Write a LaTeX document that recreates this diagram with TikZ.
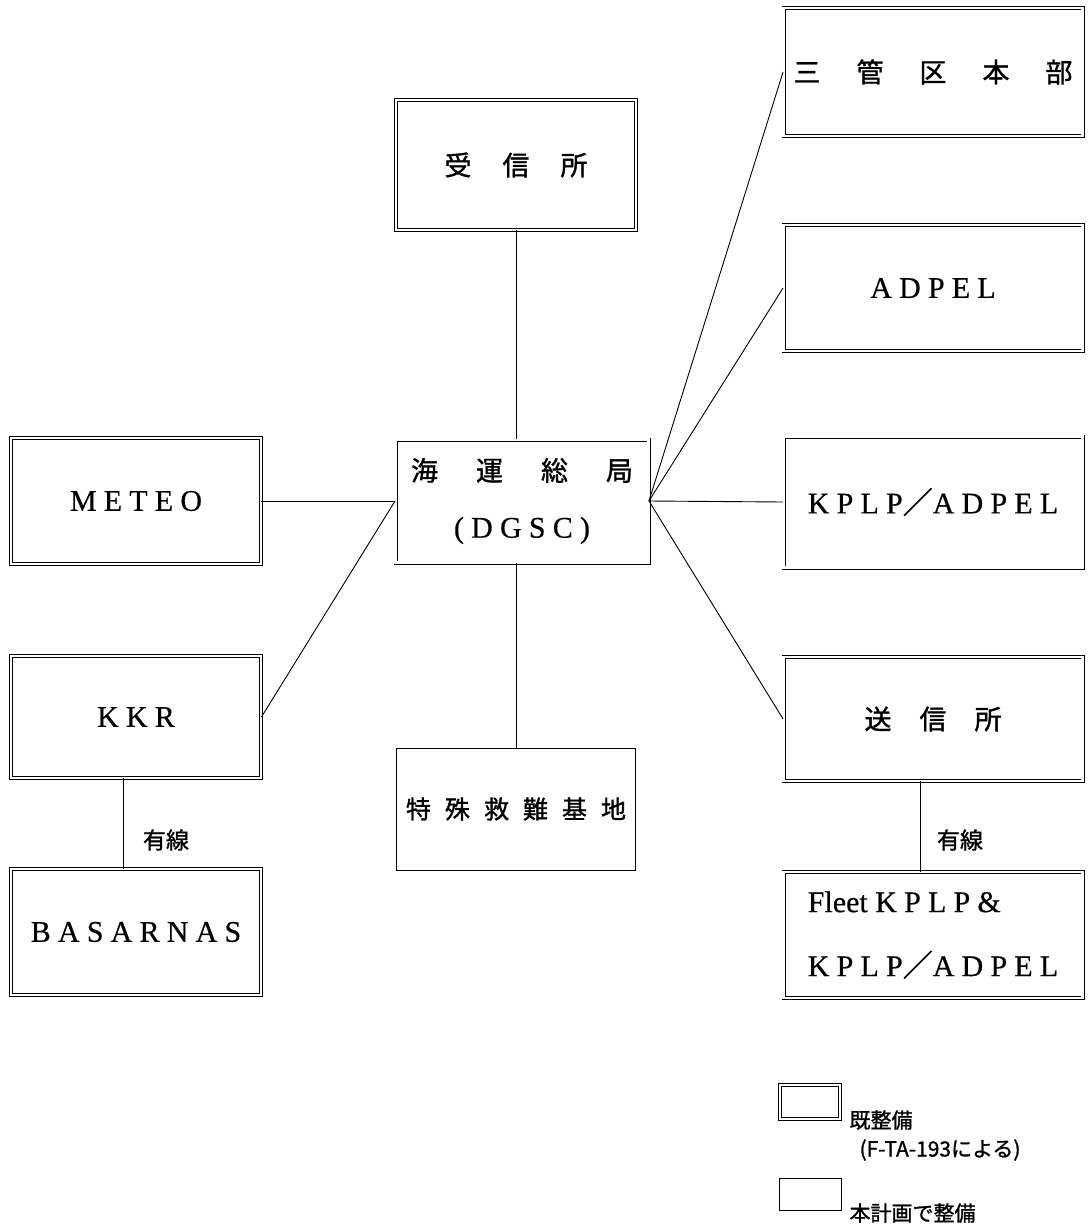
\documentclass[tikz,border=0pt]{standalone}
\usepackage{fontspec}
\setmainfont[FakeBold=0.5]{Liberation Serif}
\newfontfamily\cjk[FakeBold=1.2]{Noto Sans CJK JP}
\newfontfamily\wide[LetterSpace=24, FakeBold=0.5]{Liberation Serif}
\usetikzlibrary{positioning}

\begin{document}
\begin{tikzpicture}[
		x=1pt, y=-1pt,
		oldbox/.style={
			rectangle,
			draw=black,
			line width=0.9pt,
			double=white,
			double distance=2.2pt,
			minimum height=126pt,
			inner sep=0pt,
			font=\fontsize{30}{34}\selectfont
		},
		newbox/.style={
			rectangle,
			draw=black,
			line width=1pt,
			minimum height=122pt,
			inner sep=0pt,
			font=\fontsize{30}{34}\selectfont
		},
		link/.style={
			draw=black,
			line width=0.9pt
		},
		wirelabel/.style={
			anchor=center,
			font=\cjk\fontsize{23}{27}\selectfont
		},
		legendtext/.style={
			anchor=west,
			font=\cjk\fontsize{21}{25}\selectfont
		}
		]
		
		\useasboundingbox (0,0) rectangle (1089,1228);
		
		% centre column
		\node[oldbox, minimum width=240pt, minimum height=130pt] (recv) at (516,165)
		{\cjk\fontsize{27}{30}\selectfont 受\hspace{31pt}信\hspace{31pt}所};
		
		\node[oldbox, minimum width=253pt, minimum height=123pt, align=center,
			font=\fontsize{30}{57}\selectfont] (dgsc) at (522,501)
		{{\cjk\fontsize{27}{30}\selectfont 海\hspace{38pt}運\hspace{38pt}総\hspace{38pt}局}\\{\wide (DGSC)}};
		
		\node[newbox, minimum width=239pt] (special) at (516,809)
		{\cjk\fontsize{25}{30}\selectfont 特\hspace{14pt}殊\hspace{14pt}救\hspace{14pt}難\hspace{14pt}基\hspace{14pt}地};
		
		% left column
		\node[oldbox, minimum width=250pt] (meteo) at (136,501) {\wide METEO};
		\node[oldbox, minimum width=250pt, minimum height=122pt] (kkr) at (136,717) {\wide KKR};
		\node[oldbox, minimum width=250pt] (basarnas) at (136,932) {\wide BASARNAS};
		
		% right column
		\node[oldbox, minimum width=299pt, minimum height=128pt] (sankan) at (933,72)
		{\cjk\fontsize{27}{30}\selectfont 三\hspace{36pt}管\hspace{36pt}区\hspace{36pt}本\hspace{36pt}部};
		\node[oldbox, minimum width=299pt] (adpel) at (933,288) {\wide ADPEL};
		\node[oldbox, minimum width=299pt, minimum height=131pt] (kplp) at (933,502)
		{\wide KPLP{\cjk ／}ADPEL};
		\node[oldbox, minimum width=299pt, minimum height=124pt] (sender) at (933,719)
		{\cjk\fontsize{27}{30}\selectfont 送\hspace{28pt}信\hspace{28pt}所};
		\node[oldbox, minimum width=299pt, align=left,
			font=\fontsize{30}{64}\selectfont] (fleet) at (933,935)
		{Fleet {\wide KPLP\&}\\{\wide KPLP{\cjk ／}ADPEL}};
		
		% wired links
		\node[wirelabel] (wireL) at (166,840) {有線};
		\node[wirelabel] (wireR) at (960,840) {有線};
		
		% legend
		\node[oldbox, minimum width=60pt, minimum height=34pt] (legold) at (810,1102) {};
		\node[legendtext] (legoldtxt) at (846,1120) {既整備};
		\node[legendtext] (legoldsub) at (856,1150) {(F-TA-193による)};
		\node[newbox, minimum width=62pt, minimum height=32pt] (legnew) at (810,1194) {};
		\node[legendtext] (legnewtxt) at (846,1213) {本計画で整備};
		
		\draw[link] (recv.south) -- (recv.south |- dgsc.north);
		\draw[link] (special.north) -- (special.north |- dgsc.south);
		\draw[link] (dgsc.west) -- (meteo.east);
		\draw[link] (dgsc.west) -- (kkr.east);
		\draw[link] (dgsc.east) -- (sankan.west);
		\draw[link] (dgsc.east) -- (adpel.west);
		\draw[link] (dgsc.east) -- (kplp.west);
		\draw[link] (dgsc.east) -- (sender.west);
		\draw[link] ([xshift=-13pt]kkr.south) -- ([xshift=-13pt]basarnas.north);
		\draw[link] ([xshift=-13pt]sender.south) -- ([xshift=-13pt]fleet.north);
		
	\end{tikzpicture}
\end{document}
